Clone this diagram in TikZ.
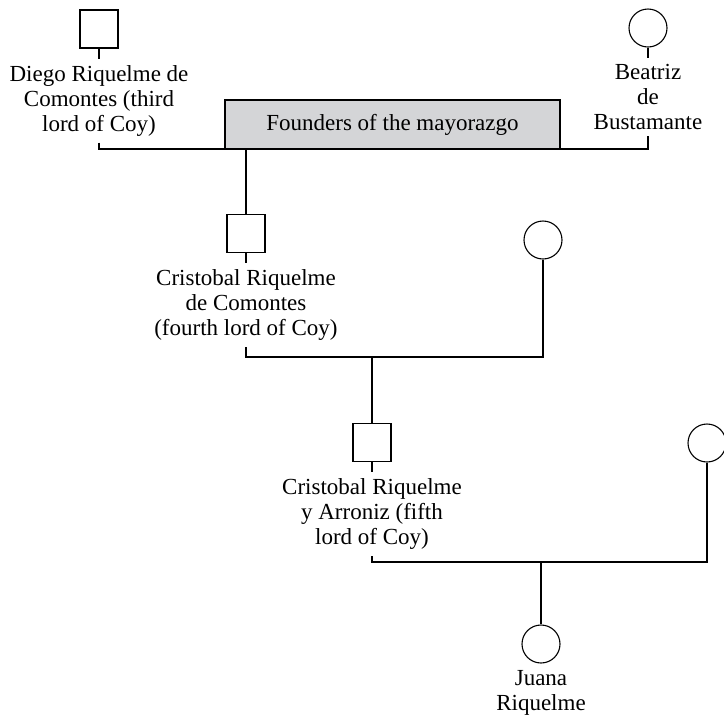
\documentclass[tikz,border=0pt]{standalone}
\usepackage{fontspec}
\setmainfont{Liberation Serif}
\usetikzlibrary{positioning}
\definecolor{foundgray}{RGB}{212,213,215}
\begin{document}
\begin{tikzpicture}[x=0.5pt, y=-0.5pt, line width=0.55pt,
    every node/.style={font=\fontsize{11.5}{12.5}\selectfont},
    male/.style={draw, rectangle, minimum size=19pt, inner sep=0pt},
    female/.style={draw, circle, minimum size=19pt, inner sep=0pt},
    who/.style={align=center, inner sep=3pt}]
    \useasboundingbox (0,0) rectangle (724,714);
    % founders
    \node[draw, fill=foundgray, minimum width=167.5pt, minimum height=24.5pt,
          inner sep=0pt] (founders) at (392.5,124.5) {Founders of the mayorazgo};
    \node[male] (diego) at (99,29) {};
    \node[who, below=5pt of diego] (diegoT) {Diego Riquelme de\\Comontes (third\\lord of Coy)};
    \node[female] (beatriz) at (648,28) {};
    \node[who, below=5pt of beatriz] (beatrizT) {Beatriz\\de\\Bustamante};
    \coordinate (m1) at (246,149);
    % second generation
    \node[male] (cris1) at (246,233.5) {};
    \node[who, below=5pt of cris1] (cris1T) {Cristobal Riquelme\\de Comontes\\(fourth lord of Coy)};
    \node[female] (wife1) at (543,240) {};
    \coordinate (m2) at (372,357);
    % third generation
    \node[male] (cris2) at (372,442.5) {};
    \node[who, below=5pt of cris2] (cris2T) {Cristobal Riquelme\\y Arroniz (fifth\\lord of Coy)};
    \node[female] (wife2) at (707,443) {};
    \coordinate (m3) at (541,562);
    % heiress
    \node[female] (juana) at (541,644) {};
    \node[who, below=0pt of juana] (juanaT) {Juana\\Riquelme};
    % lines
    \draw (diego) -- (diegoT);
    \draw (beatriz) -- (beatrizT);
    \draw (cris1) -- (cris1T);
    \draw (cris2) -- (cris2T);
    \draw (diegoT.south) |- (m1) -| (beatrizT.south);
    \draw (m1) -- (cris1.north);
    \draw (cris1T.south) |- (m2) -| (wife1.south);
    \draw (m2) -- (cris2.north);
    \draw (cris2T.south) |- (m3) -| (wife2.south);
    \draw (m3) -- (juana.north);
\end{tikzpicture}
\end{document}
